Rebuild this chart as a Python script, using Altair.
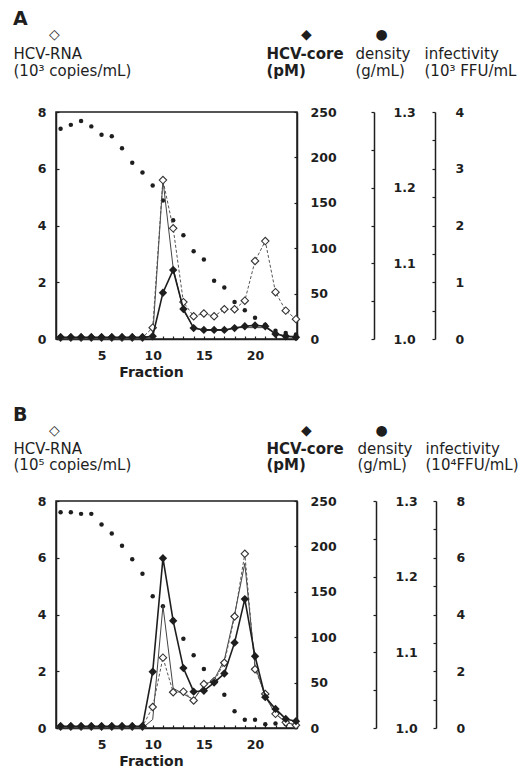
import altair as alt
import pandas as pd

fractions = [1, 2, 3, 4, 5, 6, 7, 8, 9, 10, 11, 12, 13, 14, 15, 16, 17, 18, 19, 20, 21, 22, 23, 24]

# Panel A
rna_a = [0.05, 0.05, 0.05, 0.05, 0.05, 0.05, 0.05, 0.05, 0.05, 0.4, 5.6, 3.9, 1.3, 0.8, 0.9, 0.8, 1.05, 1.05, 1.35, 2.75, 3.45, 1.65, 1.0, 0.7]
core_a = [2, 2, 2, 2, 2, 2, 2, 2, 2, 3, 51, 76, 33, 12, 10, 10, 10, 12, 14, 15, 14, 5.5, 3, 2]
density_a = [1.278, 1.283, 1.288, 1.281, 1.270, 1.268, 1.252, 1.233, 1.220, 1.203, 1.183, 1.157, 1.137, 1.116, 1.105, 1.077, 1.068, 1.049, 1.038, 1.028, 1.019, 1.011, 1.008, 1.006]
infect_a = [0, 0, 0, 0, 0, 0, 0, 0, 0, 0.05, 2.8, 1.25, 0.5, 0.2, 0.15, 0.15, 0.15, 0.2, 0.2, 0.2, 0.2, 0.1, 0.05, 0.05]

# Panel B
rna_b = [0.05, 0.05, 0.05, 0.05, 0.05, 0.05, 0.05, 0.05, 0.05, 0.74, 2.48, 1.26, 1.28, 0.97, 1.55, 1.65, 2.3, 3.93, 6.14, 2.07, 1.2, 0.5, 0.2, 0.1]
core_b = [2, 2, 2, 2, 2, 2, 2, 2, 2, 62, 187, 118, 66, 40, 41, 50, 60, 94, 142, 79, 34, 21, 10, 7.5]
density_b = [1.285, 1.285, 1.283, 1.283, 1.269, 1.257, 1.241, 1.223, 1.204, 1.174, 1.161, 1.143, 1.118, 1.096, 1.078, 1.060, 1.044, 1.022, 1.011, 1.011, 1.005, 1.006, 1.005, 1.004]
infect_b = [0, 0, 0, 0, 0, 0, 0, 0, 0, 0.3, 4.3, 1.4, 1.2, 1.0, 1.5, 1.7, 2.4, 4.0, 5.8, 2.2, 1.1, 0.5, 0.2, 0.1]

rna_ticks = [0, 2, 4, 6, 8]
core_ticks = [0, 50, 100, 150, 200, 250]
density_ticks = [1.0, 1.05, 1.1, 1.15, 1.2, 1.25, 1.3]
infect_ticks_a = [0, 0.5, 1, 1.5, 2, 2.5, 3, 3.5, 4]
infect_ticks_b = [0, 1, 2, 3, 4, 5, 6, 7, 8]

W = 241
H = 227
FONT = "DejaVu Sans"
INK = "#1e1e1e"


def panel(letter, rna, core, dens, inf, inf_max, inf_ticks, inf_label_step, rna_unit, inf_unit,
          head_y, sym_y, dens_off, inf_off):
    df = pd.DataFrame({
        "fraction": fractions, "rna": rna, "core": core,
        "density": dens, "infectivity": inf,
    })
    base = alt.Chart(df)
    x_axis = alt.Axis(
        orient="top", offset=-H, values=fractions, tickSize=3,
        labelExpr="datum.value % 5 === 0 ? datum.label : ''",
        labelBaseline="top", labelAlign="center", labelPadding=-13, labelOverlap=False,
        title="Fraction", titleX=95, titleY=26, titleAlign="center", titleBaseline="top",
        titleFontSize=14, titleFontWeight="bold",
    )
    x = alt.X("fraction:Q", scale=alt.Scale(domain=[0.55, 24.1], nice=False, zero=False), axis=x_axis)

    head = dict(titleY=head_y, titleAngle=0, titleAlign="left", titleBaseline="top", titleLineHeight=16.5)
    rna_axis = alt.Axis(
        orient="right", offset=-W, values=rna_ticks, tickSize=3,
        labelAlign="right", labelPadding=-13,
        title=["HCV-RNA", rna_unit], titleX=-43, **head,
    )
    core_axis = alt.Axis(
        orient="left", offset=-W, values=core_ticks, tickSize=3,
        labelAlign="left", labelPadding=-16,
        title=["HCV-core", "(pM)"], titleX=-31, titleFontWeight="bold", **head,
    )
    dens_axis = alt.Axis(
        orient="left", offset=-dens_off, values=density_ticks, tickSize=3,
        labelExpr="abs(datum.value * 10 - round(datum.value * 10)) < 0.001 ? format(datum.value, '.1f') : ''",
        labelAlign="left", labelPadding=-22, labelOverlap=False,
        title=["density", "(g/mL)"], titleX=-19, **head,
    )
    inf_axis = alt.Axis(
        orient="left", offset=-inf_off, values=inf_ticks, tickSize=3,
        labelExpr="abs(datum.value / " + str(inf_label_step) + " - round(datum.value / " + str(inf_label_step)
                  + ")) < 0.001 ? format(datum.value, 'd') : ''",
        labelAlign="left", labelPadding=-23, labelOverlap=False,
        title=["infectivity", inf_unit], titleX=-11, **head,
    )

    y_rna = alt.Y("rna:Q", scale=alt.Scale(domain=[0, 8], nice=False), axis=rna_axis)
    y_core = alt.Y("core:Q", scale=alt.Scale(domain=[0, 250], nice=False), axis=core_axis)
    y_dens = alt.Y("density:Q", scale=alt.Scale(domain=[1.0, 1.3], nice=False, zero=False), axis=dens_axis)
    y_inf = alt.Y("infectivity:Q", scale=alt.Scale(domain=[0, inf_max], nice=False), axis=inf_axis)

    def symbol_layer(field, glyph, tx, size):
        ax = alt.Axis(orient="left", offset=0, domain=False, ticks=False, labels=False,
                      title=glyph, titleX=tx, titleY=sym_y, titleAngle=0, titleAlign="center",
                      titleBaseline="middle", titleFontSize=size, titleFont=FONT)
        return base.mark_point(opacity=0).encode(x=x, y=alt.Y(field + ":Q", axis=ax))

    dens_layer = base.mark_circle(size=20, color=INK, opacity=1).encode(x=x, y=y_dens)
    inf_layer = base.mark_line(color="#444", strokeWidth=1).encode(x=x, y=y_inf)
    rna_layer = alt.layer(
        base.mark_line(color="#555", strokeWidth=1, strokeDash=[3, 2]).encode(x=x, y=y_rna),
        base.mark_point(shape="diamond", filled=True, fill="white", stroke="#333",
                        strokeWidth=1.1, size=55, opacity=1).encode(x=x, y=y_rna),
    )
    core_layer = alt.layer(
        base.mark_line(color=INK, strokeWidth=1.6).encode(x=x, y=y_core),
        base.mark_point(shape="diamond", filled=True, color=INK, size=70, opacity=1).encode(x=x, y=y_core),
    )
    return alt.layer(
        dens_layer, inf_layer, rna_layer, core_layer,
        symbol_layer("rna", "◇", -2, 14),
        symbol_layer("core", "◆", 250, 14),
        symbol_layer("density", "●", 325, 14),
    ).resolve_scale(y="independent").properties(
        width=W, height=H,
        title=alt.TitleParams(letter, anchor="start", frame="bounds", fontSize=19, fontWeight="bold",
                              font=FONT, color=INK, offset=-2),
    )


panel_a = panel("A", rna_a, core_a, density_a, infect_a, 4, infect_ticks_a, 1,
                "(10³ copies/mL)", "(10³ FFU/mL", -65.5, -78, 318, 379)
panel_b = panel("B", rna_b, core_b, density_b, infect_b, 8, infect_ticks_b, 2,
                "(10⁵ copies/mL)", "(10⁴FFU/mL)", -60, -71, 320, 380)

chart = alt.vconcat(panel_a, panel_b, spacing=25).properties(
    padding={"left": 12, "top": 9, "right": 0, "bottom": 0}
).configure_view(
    stroke=INK, strokeWidth=1.5
).configure_axis(
    grid=False, labelFont=FONT, titleFont=FONT, labelColor=INK, titleColor=INK,
    domainColor=INK, tickColor=INK, domainWidth=1.5, tickWidth=1.2,
    labelFontSize=12.5, labelFontWeight="bold", titleFontSize=15, titleFontWeight="normal",
).configure_title(font=FONT)

chart.save("out.html", embed_options={"renderer": "svg", "actions": False})
